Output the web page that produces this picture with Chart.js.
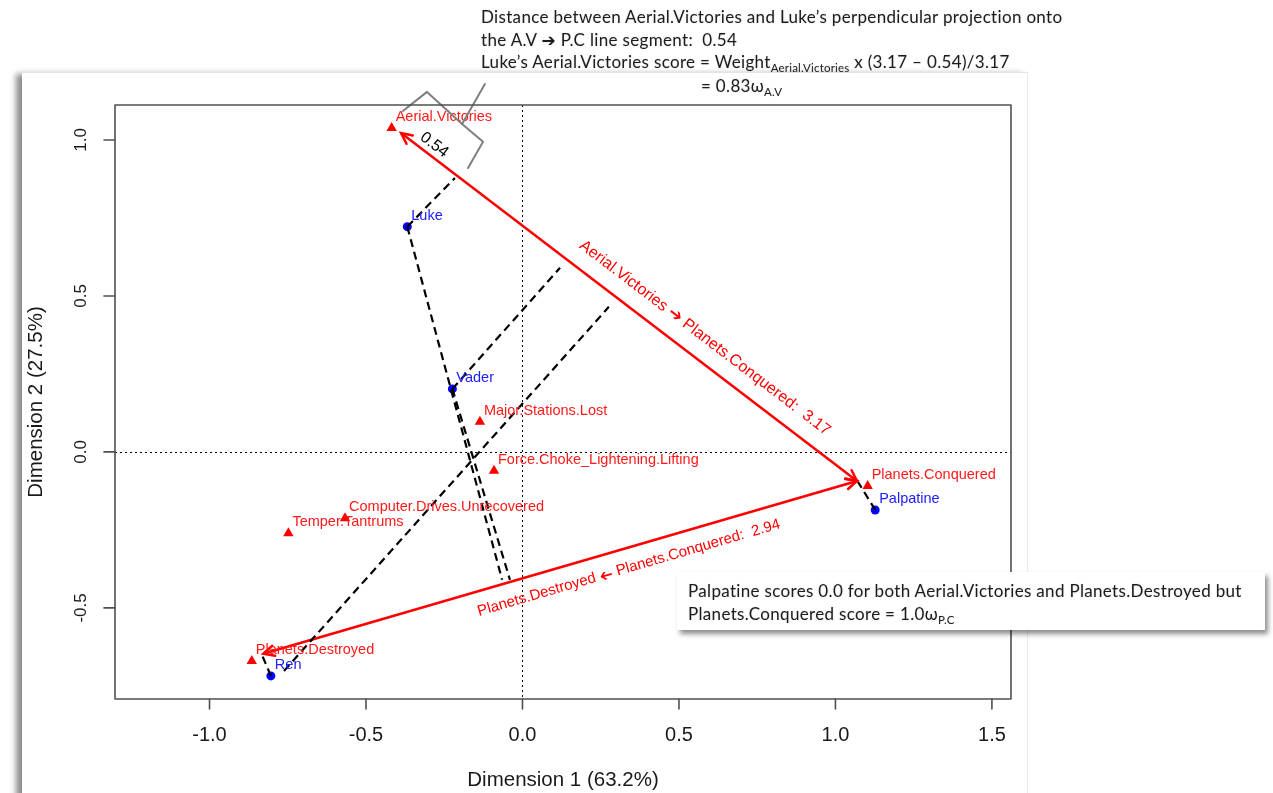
<!DOCTYPE html>
<html><head><meta charset="utf-8">
<script src="https://cdn.jsdelivr.net/npm/chart.js@4.4.1/dist/chart.umd.min.js"></script>
<style>
html,body{margin:0;padding:0;width:1273px;height:793px;overflow:hidden;background:#fff;}
#panel{position:absolute;left:22px;top:72px;width:1005px;height:740px;background:#fff;box-shadow:-6px 2px 6px rgba(0,0,0,0.45);border-top:1px solid #e4e4e4;border-right:1px solid #ececec;z-index:0;}
#c{position:absolute;left:0;top:0;z-index:1;}
.note{position:absolute;font-family:Lato,"Open Sans",sans-serif;font-size:17px;letter-spacing:0.33px;line-height:20px;color:#1c1c1c;white-space:nowrap;z-index:3;text-shadow:0 0 2px rgba(0,0,0,0.15);}
.note sub{font-size:11.5px;letter-spacing:0.2px;vertical-align:-4px;line-height:0;}
.arr{font-family:"DejaVu Sans",sans-serif;font-size:17px;}
#box{position:absolute;left:677px;top:572px;width:588px;height:58px;background:#fff;box-shadow:3px 4px 5px rgba(0,0,0,0.45);z-index:2;}
</style></head>
<body>
<div id="panel"></div>
<canvas id="c" width="1273" height="793"></canvas>
<div id="box"></div>
<div class="note" style="left:481px;top:7px;">Distance between Aerial.Victories and Luke’s perpendicular projection onto</div>
<div class="note" style="left:481px;top:30px;">the A.V <span class="arr">➔</span> P.C line segment:&nbsp; 0.54</div>
<div class="note" style="left:481px;top:52px;">Luke’s Aerial.Victories score = Weight<sub>Aerial.Victories</sub> x (3.17 – 0.54)/3.17</div>
<div class="note" style="left:701px;top:76px;">= 0.83ω<sub>A.V</sub></div>
<div class="note" style="left:688px;top:581px;">Palpatine scores 0.0 for both Aerial.Victories and Planets.Destroyed but</div>
<div class="note" style="left:688px;top:604px;">Planets.Conquered score = 1.0ω<sub>P.C</sub></div>
<script>
// ---- data ----
const xTicks = [-1.0, -0.5, 0.0, 0.5, 1.0, 1.5];
const yTicks = [-0.5, 0.0, 0.5, 1.0];
const xRange = [-1.302, 1.561];
const yRange = [-0.792, 1.112];

const individualNames = ['Luke', 'Vader', 'Palpatine', 'Ren'];
const individualX = [-0.368, -0.224, 1.127, -0.804];
const individualY = [0.722, 0.202, -0.186, -0.718];

const variableNames = ['Aerial.Victories', 'Major.Stations.Lost', 'Force.Choke_Lightening.Lifting',
  'Computer.Drives.Unrecovered', 'Temper.Tantrums', 'Planets.Destroyed', 'Planets.Conquered'];
const variableX = [-0.418, -0.136, -0.091, -0.567, -0.748, -0.865, 1.103];
const variableY = [1.038, 0.097, -0.060, -0.213, -0.261, -0.670, -0.109];

// red double-headed arrows between variables
const arrowFrom = ['Aerial.Victories', 'Planets.Destroyed'];
const arrowTo = ['Planets.Conquered:  3.17', 'Planets.Conquered:  2.94'];
const arrowPointsLeft = [false, true];
const arrowFontSize = [16, 15];
const arrowX = [[-0.388, 1.069], [-0.828, 1.069]];
const arrowY = [[1.022, -0.093], [-0.647, -0.093]];
const arrowLabelX = [0.583, 0.340];
const arrowLabelY = [0.365, -0.372];

// dashed perpendicular projections
const projX = [[-0.368, -0.216], [-0.368, -0.065], [-0.224, -0.040], [-0.224, 0.120], [-0.762, 0.276], [-0.804, -0.831], [1.127, 1.072]];
const projY = [[0.722, 0.878], [0.722, -0.410], [0.202, -0.410], [0.202, 0.590], [-0.702, 0.465], [-0.718, -0.654], [-0.186, -0.096]];

// distance annotation (brace + value)
const braceX = [[-0.382, -0.305, -0.193, -0.126, -0.174], [-0.193, -0.120]];
const braceY = [[1.093, 1.154, 1.051, 0.994, 0.910], [1.051, 1.179]];
const distLabel = '0.54';
const distLabelX = -0.282, distLabelY = 0.984;

const xTitle = 'Dimension 1 (63.2%)';
const yTitle = 'Dimension 2 (27.5%)';

// ---- build datasets ----
const pts = (xs, ys) => xs.map((x, i) => ({x, y: ys[i]}));
const datasets = [];
projX.forEach((xs, i) => datasets.push({
  data: pts(xs, projY[i]), showLine: true, borderColor: '#000', borderWidth: 2.2,
  borderDash: [8, 5], pointRadius: 0, fill: false
}));
arrowX.forEach((xs, i) => datasets.push({
  data: pts(xs, arrowY[i]), showLine: true, borderColor: '#ff0000', borderWidth: 2.5,
  pointRadius: 0, fill: false
}));
datasets.push({data: pts(variableX, variableY), pointStyle: 'triangle', pointRadius: 6,
  backgroundColor: '#ff0000', borderColor: '#ff0000', borderWidth: 0});
datasets.push({data: pts(individualX, individualY), pointStyle: 'circle', pointRadius: 4.5,
  backgroundColor: '#0000ff', borderColor: '#0000ff', borderWidth: 0});

const FONT = '"Liberation Sans", Arial, sans-serif';

const decor = {
  id: 'decor',
  beforeDatasetsDraw(chart) {
    const {ctx, chartArea: a, scales: {x, y}} = chart;
    ctx.save();
    ctx.strokeStyle = '#000'; ctx.lineWidth = 1; ctx.setLineDash([2, 3]);
    const x0 = Math.round(x.getPixelForValue(0)) + 0.5, y0 = Math.round(y.getPixelForValue(0)) + 0.5;
    ctx.beginPath(); ctx.moveTo(x0, a.top); ctx.lineTo(x0, a.bottom); ctx.stroke();
    ctx.beginPath(); ctx.moveTo(a.left, y0); ctx.lineTo(a.right, y0); ctx.stroke();
    ctx.restore();
  },
  afterDatasetsDraw(chart) {
    const {ctx, chartArea: a, scales: {x, y}} = chart;
    const px = v => x.getPixelForValue(v), py = v => y.getPixelForValue(v);
    ctx.save();
    // arrowheads
    ctx.strokeStyle = '#ff0000'; ctx.lineWidth = 2.5; ctx.lineCap = 'round';
    arrowX.forEach((xs, i) => {
      const p = [[px(xs[0]), py(arrowY[i][0])], [px(xs[1]), py(arrowY[i][1])]];
      [[0, 1], [1, 0]].forEach(([t, f]) => {
        const ang = Math.atan2(p[t][1] - p[f][1], p[t][0] - p[f][0]);
        const L = 12, s = Math.PI / 7;
        ctx.beginPath();
        ctx.moveTo(p[t][0] - L * Math.cos(ang - s), p[t][1] - L * Math.sin(ang - s));
        ctx.lineTo(p[t][0], p[t][1]);
        ctx.lineTo(p[t][0] - L * Math.cos(ang + s), p[t][1] - L * Math.sin(ang + s));
        ctx.stroke();
      });
      // arrow label along the line
      const ang = Math.atan2(p[1][1] - p[0][1], p[1][0] - p[0][0]);
      let rot = ang; if (rot > Math.PI / 2) rot -= Math.PI; if (rot < -Math.PI / 2) rot += Math.PI;
      const fs = arrowFontSize[i];
      const fText = fs + 'px ' + FONT, fArr = (fs + 1) + 'px "DejaVu Sans", sans-serif';
      const s1 = arrowFrom[i] + ' ', s3 = ' ' + arrowTo[i], sym = '\u2794';
      ctx.save();
      ctx.translate(px(arrowLabelX[i]), py(arrowLabelY[i]));
      ctx.rotate(rot);
      ctx.fillStyle = '#ff0000'; ctx.textBaseline = 'middle'; ctx.textAlign = 'left';
      ctx.font = fText; const w1 = ctx.measureText(s1).width, w3 = ctx.measureText(s3).width;
      ctx.font = fArr; const w2 = ctx.measureText(sym).width;
      let cx = -(w1 + w2 + w3) / 2;
      ctx.font = fText; ctx.fillText(s1, cx, 0); cx += w1;
      ctx.font = fArr;
      if (arrowPointsLeft[i]) {
        ctx.save(); ctx.translate(cx + w2 / 2, 0); ctx.rotate(Math.PI);
        ctx.textAlign = 'center'; ctx.fillText(sym, 0, 0); ctx.restore();
      } else ctx.fillText(sym, cx, 0);
      cx += w2;
      ctx.font = fText; ctx.fillText(s3, cx, 0);
      ctx.restore();
    });
    // point labels
    ctx.font = '14.5px ' + FONT; ctx.textAlign = 'left'; ctx.textBaseline = 'middle';
    ctx.fillStyle = '#ff1a1a';
    variableNames.forEach((n, i) => ctx.fillText(n, px(variableX[i]) + 4, py(variableY[i]) - 11));
    ctx.fillStyle = '#2020ff';
    individualNames.forEach((n, i) => ctx.fillText(n, px(individualX[i]) + 4, py(individualY[i]) - 11));
    // brace
    ctx.strokeStyle = '#7f7f7f'; ctx.lineWidth = 2; ctx.lineJoin = 'round';
    braceX.forEach((xs, i) => {
      ctx.beginPath();
      xs.forEach((v, j) => j ? ctx.lineTo(px(v), py(braceY[i][j])) : ctx.moveTo(px(v), py(braceY[i][j])));
      ctx.stroke();
    });
    ctx.save();
    ctx.translate(px(distLabelX), py(distLabelY));
    const a0 = Math.atan2(py(arrowY[0][1]) - py(arrowY[0][0]), px(arrowX[0][1]) - px(arrowX[0][0]));
    ctx.rotate(a0);
    ctx.fillStyle = '#000'; ctx.font = '16px ' + FONT; ctx.textAlign = 'center';
    ctx.fillText(distLabel, 0, 0);
    ctx.restore();
    // box + axes
    ctx.strokeStyle = '#505050'; ctx.lineWidth = 1.6; ctx.setLineDash([]);
    ctx.strokeRect(a.left, a.top, a.right - a.left, a.bottom - a.top);
    ctx.fillStyle = '#1a1a1a';
    ctx.font = '20px ' + FONT; ctx.textAlign = 'center'; ctx.textBaseline = 'middle';
    xTicks.forEach(v => {
      const X = px(v);
      ctx.beginPath(); ctx.moveTo(X, a.bottom); ctx.lineTo(X, a.bottom + 10); ctx.stroke();
      ctx.fillText(v.toFixed(1), X, 735);
    });
    ctx.font = '17px ' + FONT;
    yTicks.forEach(v => {
      const Y = py(v);
      ctx.beginPath(); ctx.moveTo(a.left, Y); ctx.lineTo(a.left - 11, Y); ctx.stroke();
      ctx.save(); ctx.translate(81, Y); ctx.rotate(-Math.PI / 2);
      ctx.fillText(v.toFixed(1), 0, 0); ctx.restore();
    });
    ctx.font = '20.5px ' + FONT;
    ctx.fillText(xTitle, (a.left + a.right) / 2, 780);
    ctx.save(); ctx.translate(36, (a.top + a.bottom) / 2); ctx.rotate(-Math.PI / 2);
    ctx.fillText(yTitle, 0, 0); ctx.restore();
    ctx.restore();
  }
};

new Chart(document.getElementById('c'), {
  type: 'scatter',
  data: {datasets},
  options: {
    responsive: false, animation: false, devicePixelRatio: 1,
    layout: {padding: {left: 115, top: 105, right: 262, bottom: 94}},
    plugins: {legend: {display: false}, tooltip: {enabled: false}},
    scales: {
      x: {type: 'linear', display: false, min: xRange[0], max: xRange[1],
          afterBuildTicks: s => { s.ticks = xTicks.map(v => ({value: v})); }},
      y: {type: 'linear', display: false, min: yRange[0], max: yRange[1],
          afterBuildTicks: s => { s.ticks = yTicks.map(v => ({value: v})); }}
    }
  },
  plugins: [decor]
});
</script>
</body></html>
